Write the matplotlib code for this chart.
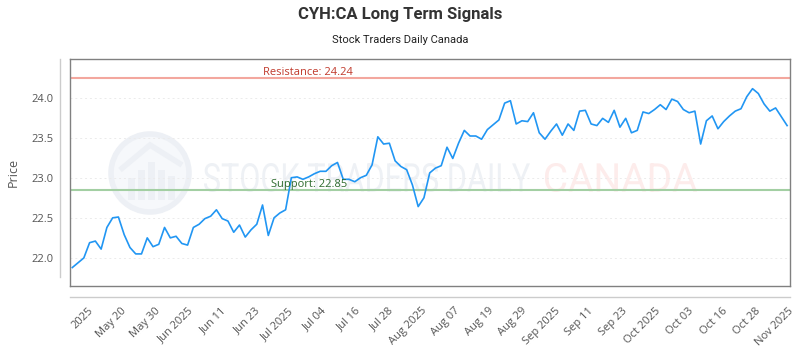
import numpy as np
import matplotlib
matplotlib.use('Agg')
import matplotlib.pyplot as plt
from matplotlib.patches import Circle, Rectangle, PathPatch, Polygon
from matplotlib.textpath import TextPath
from matplotlib.font_manager import FontProperties
from matplotlib.transforms import Affine2D, IdentityTransform

# Daily closing prices
prices = [
    21.88, 21.94, 22.00, 22.19, 22.21, 22.11, 22.38, 22.50, 22.51, 22.29,
    22.13, 22.05, 22.05, 22.25, 22.14, 22.17, 22.38, 22.25, 22.27, 22.18,
    22.16, 22.38, 22.42, 22.49, 22.52, 22.60, 22.49, 22.46, 22.32, 22.41,
    22.26, 22.35, 22.42, 22.66, 22.28, 22.50, 22.56, 22.60, 23.00, 23.01,
    22.98, 23.01, 23.05, 23.08, 23.08, 23.15, 23.19, 22.98, 22.98, 22.95,
    23.00, 23.03, 23.16, 23.51, 23.42, 23.43, 23.21, 23.14, 23.10, 22.91,
    22.64, 22.75, 23.06, 23.12, 23.15, 23.38, 23.24, 23.43, 23.59, 23.52,
    23.52, 23.48, 23.60, 23.66, 23.72, 23.93, 23.96, 23.67, 23.71, 23.70,
    23.81, 23.56, 23.48, 23.58, 23.67, 23.53, 23.67, 23.59, 23.83, 23.84,
    23.67, 23.65, 23.74, 23.69, 23.84, 23.63, 23.74, 23.56, 23.59, 23.82,
    23.80, 23.85, 23.91, 23.85, 23.98, 23.95, 23.85, 23.81, 23.83, 23.42,
    23.71, 23.77, 23.61, 23.70, 23.77, 23.83, 23.86, 24.01, 24.11, 24.05,
    23.92, 23.83, 23.87, 23.76, 23.65,
]

tick_labels = ['2025', 'May 20', 'May 30', 'Jun 2025', 'Jun 11', 'Jun 23',
               'Jul 2025', 'Jul 04', 'Jul 16', 'Jul 28', 'Aug 2025', 'Aug 07',
               'Aug 19', 'Aug 29', 'Sep 2025', 'Sep 11', 'Sep 23', 'Oct 2025',
               'Oct 03', 'Oct 16', 'Oct 28', 'Nov 2025']

resistance = 24.24
support = 22.85

title = 'CYH:CA Long Term Signals'
subtitle = 'Stock Traders Daily Canada'

W, H = 800, 350
fig = plt.figure(figsize=(8, 3.5), dpi=100)
ax = fig.add_axes([70 / W, 1 - 286 / H, 720 / W, 227 / H])

x = np.arange(len(prices))

# watermark (drawn in pixel space, behind the data)
def pix(xp, yp):
    return xp, H - yp

wm_blue = '#edf0f5'
logo_c = pix(150, 173)
fig.add_artist(Circle(logo_c, 39, transform=IdentityTransform(),
                      facecolor='#f6f8fb', edgecolor=wm_blue, lw=4, zorder=-2))
for bx, bh in [(128, 22), (138, 30), (148, 38), (158, 30), (168, 24)]:
    fig.add_artist(Rectangle(pix(bx, 200), 7, bh, transform=IdentityTransform(),
                             facecolor=wm_blue, edgecolor='none', zorder=-1))
fig.add_artist(Polygon([pix(120, 170), pix(150, 145), pix(182, 165)], closed=False,
                       fill=False, edgecolor=wm_blue, lw=4,
                       transform=IdentityTransform(), zorder=-1))


def squeezed_text(s, x0, x1, ytop, ybot, color):
    tp = TextPath((0, 0), s, size=1, prop=FontProperties(family='Roboto'))
    ext = tp.get_extents()
    sx = (x1 - x0) / ext.width
    sy = (ybot - ytop) / ext.height
    tr = Affine2D().translate(-ext.x0, -ext.y0).scale(sx, sy).translate(x0, H - ybot)
    fig.add_artist(PathPatch(tp, transform=tr, facecolor=color, edgecolor='none',
                             zorder=-1))


squeezed_text('STOCK TRADERS DAILY', 204, 530, 163, 192, '#eef1f5')
squeezed_text('CANADA', 545, 697, 163, 192, '#fdeceb')

ax.set_facecolor('none')
ax.plot(x, prices, color='#2196f3', lw=1.2, zorder=3)

ax.axhline(resistance, color='#f3a79e', lw=1.5, zorder=2)
ax.axhline(support, color='#a3cfa3', lw=1.5, zorder=2)
ax.text((263 - 70) / 720, resistance, f'Resistance: {resistance:.2f}',
        transform=ax.get_yaxis_transform(), color='#c0392b', fontsize=8,
        family='Open Sans', va='bottom', ha='left')
ax.text((271 - 70) / 720, support, f'Support: {support:.2f}',
        transform=ax.get_yaxis_transform(), color='#2e6b2e', fontsize=8,
        family='Open Sans', va='bottom', ha='left')

ax.set_xlim(-0.4, len(prices) - 0.5)
ax.set_ylim(21.65, 24.48)
ax.set_yticks([22.0, 22.5, 23.0, 23.5, 24.0])
ax.set_yticklabels([f'{v:.1f}' for v in [22.0, 22.5, 23.0, 23.5, 24.0]])
ax.set_xticks(np.linspace(2.7, 124.2, len(tick_labels)))
ax.set_xticklabels(tick_labels, rotation=45, ha='right', rotation_mode='anchor')

ax.grid(True, axis='y', color='#ebebeb', linestyle=(0, (2, 3)), lw=0.7)
ax.set_axisbelow(True)
for sp in ax.spines.values():
    sp.set_color('#808080')
    sp.set_linewidth(1)

ax.tick_params(axis='both', length=0, colors='#555555', labelsize=8)
ax.tick_params(axis='y', pad=12)
ax.tick_params(axis='x', pad=14)
for lab in ax.get_xticklabels() + ax.get_yticklabels():
    lab.set_family('Open Sans')
ax.set_ylabel('Price', color='#555555', fontsize=9, family='Open Sans', labelpad=8)

# offset axis lines outside the frame
ax.plot([-10 / 720, -10 / 720], [1, 9 / 227], transform=ax.transAxes,
        color='#cccccc', lw=1, clip_on=False)
ax.plot([0, 1], [-11 / 227, -11 / 227], transform=ax.transAxes,
        color='#cccccc', lw=1, clip_on=False)

fig.text(0.5, 1 - 15 / H, title, ha='center', va='center', fontsize=12,
         fontweight='bold', color='#333333', family='Roboto')
fig.text(0.5, 1 - 40 / H, subtitle, ha='center', va='center', fontsize=8,
         color='#222222', family='Roboto')

fig.savefig('out.png', dpi=100)
